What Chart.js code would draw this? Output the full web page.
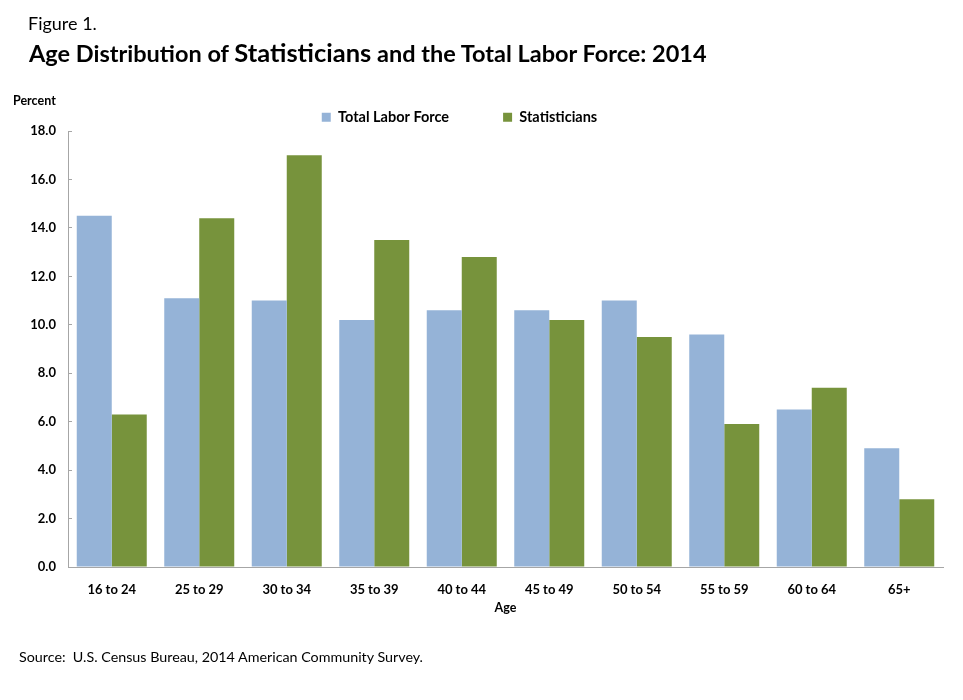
<!DOCTYPE html>
<html>
<head>
<meta charset="utf-8">
<script src="https://cdn.jsdelivr.net/npm/chart.js@4.4.1/dist/chart.umd.min.js"></script>
<style>
  html, body { margin: 0; padding: 0; background: #fff; }
  #wrap { position: relative; width: 963px; height: 700px; overflow: hidden; font-family: Lato, "Open Sans", sans-serif; color: #000; }
  #chart { position: absolute; left: 0; top: 0; }
  .txt { position: absolute; white-space: nowrap; line-height: 1; }
  #fig { left: 28px; top: 14px; font-size: 18px; }
  #title { left: 29px; top: 40px; font-size: 23.5px; font-weight: bold; }
  #title .big { font-size: 25.5px; }
  #pct { left: 13px; top: 95px; font-size: 12.5px; font-weight: bold; }
  #src { left: 19px; top: 650px; font-size: 14.3px; }
</style>
</head>
<body>
<div id="wrap">
  <canvas id="chart" width="963" height="700"></canvas>
  <div class="txt" id="fig">Figure 1.</div>
  <div class="txt" id="title">Age Distribution of <span class="big">Statisticians</span> and the Total Labor Force: 2014</div>
  <div class="txt" id="pct">Percent</div>
  <div class="txt" id="src">Source:&nbsp; U.S. Census Bureau, 2014 American Community Survey.</div>
</div>
<script>
const categories = ["16 to 24", "25 to 29", "30 to 34", "35 to 39", "40 to 44", "45 to 49", "50 to 54", "55 to 59", "60 to 64", "65+"];
const totalLaborForce = [14.5, 11.1, 11.0, 10.2, 10.6, 10.6, 11.0, 9.6, 6.5, 4.9];
const statisticians = [6.3, 14.4, 17.0, 13.5, 12.8, 10.2, 9.5, 5.9, 7.4, 2.8];
const yTicks = [0, 2, 4, 6, 8, 10, 12, 14, 16, 18];

const FONT = "Lato, 'Open Sans', sans-serif";
const AXIS = "#A6A6A6";

const legendShift = {
  id: "legendShift",
  afterLayout(chart) {
    if (chart.legend) { chart.legend.left -= 12; chart.legend.right -= 12; }
  }
};

new Chart(document.getElementById("chart"), {
  type: "bar",
  data: {
    labels: categories,
    datasets: [
      { label: "Total Labor Force", data: totalLaborForce, backgroundColor: "#95B3D7", borderWidth: 0 },
      { label: "Statisticians", data: statisticians, backgroundColor: "#77933C", borderWidth: 0 }
    ]
  },
  plugins: [legendShift],
  options: {
    responsive: false,
    animation: false,
    devicePixelRatio: 1,
    layout: { padding: { left: 0, right: 20, top: 56, bottom: 85 } },
    datasets: { bar: { categoryPercentage: 0.8, barPercentage: 1.0 } },
    plugins: {
      legend: {
        display: true,
        position: "top",
        align: "center",
        maxHeight: 75,
        labels: {
          boxWidth: 9, boxHeight: 9, padding: 54,
          color: "#000",
          font: { family: FONT, size: 14.5, weight: "bold" }
        }
      },
      tooltip: { enabled: false },
      title: { display: false }
    },
    scales: {
      x: {
        offset: true,
        grid: { display: false },
        border: { display: true, color: AXIS, width: 1 },
        ticks: { color: "#000", padding: 7, font: { family: FONT, size: 13, weight: "bold" } },
        title: { display: true, text: "Age", color: "#000", padding: 0, font: { family: FONT, size: 12.5, weight: "bold" } },
        afterFit: (s) => { s.height = 48; }
      },
      y: {
        min: 0, max: 18,
        afterBuildTicks: (s) => { s.ticks = yTicks.map(v => ({ value: v })); },
        grid: { drawOnChartArea: false, drawTicks: true, tickLength: -4, color: AXIS },
        border: { display: true, color: AXIS, width: 1 },
        ticks: { color: "#000", padding: 16, font: { family: FONT, size: 13, weight: "bold" }, callback: (v) => Number(v).toFixed(1) },
        afterFit: (s) => { s.width = 68; }
      }
    }
  }
});
</script>
</body>
</html>
